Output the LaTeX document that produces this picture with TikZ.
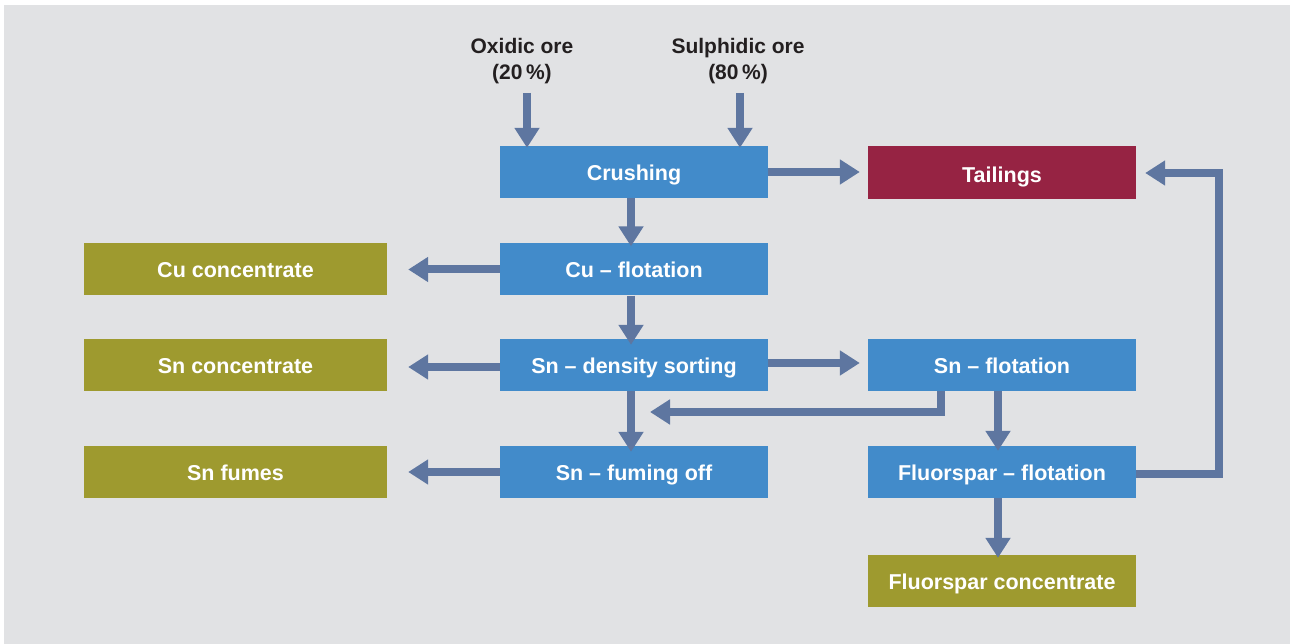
\documentclass[tikz,border=0pt]{standalone}
\usepackage{fontspec}
\setmainfont{Liberation Sans}
\usetikzlibrary{arrows.meta}
\definecolor{bgc}{RGB}{225,226,228}
\definecolor{bluebox}{RGB}{66,139,202}
\definecolor{redbox}{RGB}{150,35,67}
\definecolor{olivebox}{RGB}{158,154,47}
\definecolor{arrc}{RGB}{94,118,160}
\definecolor{txtc}{RGB}{35,31,32}
\tikzset{
  box/.style={rectangle, inner sep=0pt, minimum height=52pt, text=white,
    text height=19pt, text depth=2pt,
    font=\fontsize{21.5}{25}\selectfont\bfseries},
  proc/.style={box, fill=bluebox, minimum width=268pt},
  outl/.style={box, fill=olivebox, minimum width=303pt},
  outr/.style={box, fill=olivebox, minimum width=268pt},
  tail/.style={box, fill=redbox, minimum width=268pt, minimum height=53pt,
    text height=23pt, text depth=2pt},
  lbl/.style={align=center, text=txtc, inner sep=0pt,
    font=\fontsize{21}{26}\selectfont\bfseries},
  arr/.style={draw=arrc, line width=8pt, line join=miter,
    -{Triangle[length=20pt,width=24pt]}}
}
\begin{document}
\begin{tikzpicture}[x=1pt,y=-1pt]
\useasboundingbox (0,0) rectangle (1290,644);
\fill[white] (0,0) rectangle (1290,644);
\fill[bgc] (4,5) rectangle (1290,644);

\node[lbl] (ox) at (522,61.5) {Oxidic ore\\(20\,\%)};
\node[lbl] (su) at (738,61.5) {Sulphidic ore\\(80\,\%)};

\node[proc] (crush) at (634,172) {Crushing};
\node[tail] (tail) at (1002,172.5) {Tailings};
\node[proc] (cuf) at (634,269.5) {Cu -- flotation};
\node[outl] (cuc) at (235.5,269.5) {Cu concentrate};
\node[proc] (snd) at (634,365) {Sn -- density sorting};
\node[outl] (snc) at (235.5,365) {Sn concentrate};
\node[proc] (snf) at (1002,365) {Sn -- flotation};
\node[proc] (snfo) at (634,472) {Sn -- fuming off};
\node[outl] (snfu) at (235.5,472) {Sn fumes};
\node[proc] (flf) at (1002,472) {Fluorspar -- flotation};
\node[outr] (flc) at (1002,581) {Fluorspar concentrate};

\coordinate (oxs) at (527,93);
\coordinate (sus) at (740,93);
\draw[arr] (oxs) -- ([yshift=-2pt]oxs |- crush.north);
\draw[arr] (sus) -- ([yshift=-2pt]sus |- crush.north);

\draw[arr] (crush.east) -- ([xshift=-8pt,yshift=0.5pt]tail.west);
\draw[arr] ([xshift=-3pt]crush.south) -- ([xshift=-3pt,yshift=-3pt]crush.south |- cuf.north);
\draw[arr] (cuf.west) -- ([xshift=21pt]cuc.east);
\draw[arr] ([xshift=-3pt]cuf.south) -- ([xshift=-3pt,yshift=-6pt]cuf.south |- snd.north);
\draw[arr] ([yshift=-2pt]snd.west) -- ([xshift=21pt,yshift=-2pt]snc.east);
\draw[arr] ([yshift=2pt]snd.east) -- ([xshift=-8pt,yshift=2pt]snf.west);
\draw[arr] ([xshift=-3pt]snd.south) -- ([xshift=-3pt,yshift=-6pt]snd.south |- snfo.north);
\draw[arr] (snfo.west) -- ([xshift=21pt]snfu.east);
\coordinate (tipx) at (650,412);
\draw[arr] ([xshift=-61pt]snf.south) |- (tipx);
\draw[arr] ([xshift=-4pt]snf.south) -- ([xshift=-4pt,yshift=-5pt]snf.south |- flf.north);
\draw[arr] ([yshift=-2pt]flf.east) -- ++(83,0) |- ([xshift=9pt,yshift=-0.5pt]tail.east);
\draw[arr] ([xshift=-4pt]flf.south) -- ([xshift=-4pt,yshift=-3pt]flf.south |- flc.north);
\end{tikzpicture}
\end{document}
